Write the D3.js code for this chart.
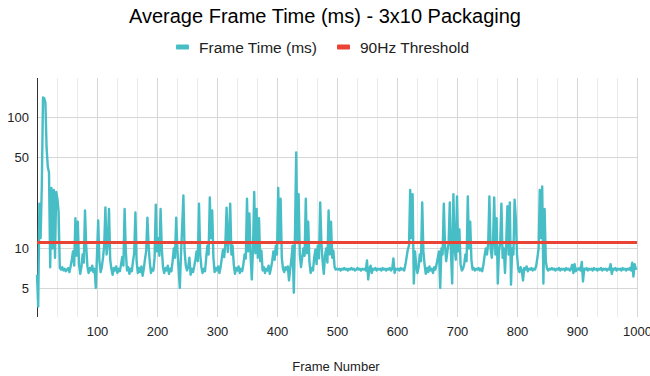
<!DOCTYPE html>
<html>
<head>
<meta charset="utf-8">
<script src="https://cdn.jsdelivr.net/npm/d3@7/dist/d3.min.js"></script>
<style>
  body { margin: 0; background: #fff; }
  text { font-family: "Liberation Sans", Arial, sans-serif; }
</style>
</head>
<body>
<figure id="chart" style="margin:0"></figure>
<script>
// frame time samples, every 2nd frame from 0 to 1000
const frameTime = [
  6.3, 3.6, 22, 12, 30, 142, 140, 130, 58, 42, 38, 7.2, 29, 10, 28, 8.5, 27, 24, 19, 7.1, 6.9, 7.2, 6.8, 7.0, 6.7,
  6.9, 7.1, 6.6, 7.3, 8.2, 9.5, 7.4, 17, 8.8, 16, 7.6, 6.4, 7.2, 9.0, 7.8, 19.5, 10.5, 7.3, 6.5, 7.1, 6.8, 7.4, 6.6, 7.0, 5.0,
  9.0, 16.4, 8.0, 6.6, 7.2, 8.5, 10.5, 20.6, 9.0, 11, 20, 8.2, 7.0, 6.3, 7.1, 6.8, 7.3, 6.5, 7.0, 6.7, 7.5, 8.6, 7.4, 20, 9.5,
  6.8, 7.2, 6.4, 7.0, 6.7, 8.0, 9.2, 18.8, 8.0, 6.5, 7.1, 6.6, 7.3, 6.2, 7.0, 8.3, 9.6, 17.2, 10.5, 7.8, 6.5, 7.0, 6.8, 8.5, 21.6,
  9.5, 12, 8.8, 20, 10, 7.2, 6.5, 7.1, 6.8, 7.4, 6.4, 7.0, 6.7, 8.0, 10, 8.5, 17.2, 9.8, 7.0, 5.0, 9.0, 15, 25.4, 9.5, 7.4,
  6.8, 7.2, 8.5, 6.3, 7.0, 6.6, 7.3, 8.2, 9.5, 8.0, 22, 9.0, 7.2, 6.5, 7.0, 6.7, 8.5, 10.5, 9.0, 24.5, 12, 19.5, 8.5, 6.6, 7.1,
  6.8, 7.3, 6.5, 7.2, 8.4, 9.8, 8.6, 11, 20.5, 9.4, 12, 22, 9.0, 10.5, 7.5, 6.4, 7.1, 6.8, 7.3, 6.5, 7.0, 6.7, 7.6, 9.0, 8.4,
  24, 9.5, 18.5, 8.8, 5.8, 10, 27, 9.2, 20, 8.5, 17, 8.0, 9.6, 6.8, 7.2, 6.5, 7.0, 6.8, 7.4, 6.4, 7.1, 8.0, 9.5, 8.2, 10.5,
  9.0, 29, 11, 24, 8.5, 7.0, 6.6, 7.2, 6.9, 7.3, 5.7, 7.0, 8.2, 10.5, 4.6, 13, 54, 11, 26, 9.0, 7.2, 8.5, 10, 8.8, 24,
  9.2, 16, 8.0, 6.5, 7.1, 6.8, 8.5, 9.8, 7.6, 10.5, 8.4, 22.5, 11, 8.0, 6.4, 8.8, 10, 7.8, 19.5, 9.0, 16, 8.5, 9.6, 7.2, 6.9,
  7.0, 6.9, 7.0, 6.8, 7.0, 6.9, 7.1, 6.9, 7.0, 6.8, 7.0, 6.9, 7.1, 6.9, 7.0, 6.8, 6.9, 7.1, 6.9, 7.0, 6.8, 7.0, 6.9, 7.0, 6.8,
  8.1, 5.8, 7.0, 7.4, 6.5, 7.0, 6.9, 7.1, 6.8, 7.0, 6.9, 7.0, 6.8, 7.1, 6.9, 7.0, 6.8, 7.0, 6.9, 7.1, 6.8, 7.0, 8.4, 6.5, 7.0,
  6.9, 7.0, 6.8, 7.1, 6.9, 7.0, 6.8, 7.5, 8.6, 9.8, 10.5, 28, 12, 26, 5.4, 9.5, 7.4, 6.5, 7.2, 9.0, 8.0, 22.5, 9.5, 7.5, 6.4,
  7.1, 6.6, 7.3, 6.8, 7.0, 6.5, 7.2, 6.9, 7.6, 8.5, 9.5, 5.0, 10, 9.0, 22, 10.5, 8.0, 9.5, 11, 22.5, 9.0, 5.4, 26, 10, 8.2,
  25, 9.5, 14, 7.5, 6.8, 7.0, 7.6, 9.0, 8.0, 25, 10, 16, 8.2, 6.9, 7.1, 6.8, 7.0, 6.9, 7.1, 6.8, 7.0, 6.7, 7.5, 8.8, 10,
  9.0, 11, 25, 10, 8.5, 11, 24.5, 9.0, 17, 5.4, 9.5, 11, 22, 8.5, 10, 6.5, 11, 21, 9.0, 22.5, 5.3, 10, 9.0, 23.6, 17,
  9.0, 7.0, 6.6, 7.2, 6.8, 5.7, 7.1, 6.9, 7.3, 6.7, 7.0, 6.9, 7.1, 6.8, 7.0, 6.9, 7.4, 8.5, 10, 28, 12, 29.7, 5.4, 20, 8.0,
  7.0, 6.8, 7.0, 6.9, 7.1, 6.9, 7.0, 6.8, 7.0, 6.9, 7.1, 6.8, 7.0, 6.9, 7.0, 6.8, 7.1, 6.9, 7.0, 6.8, 7.0, 7.5, 6.5, 7.6, 6.7,
  7.0, 6.9, 7.1, 6.8, 7.9, 5.6, 7.0, 6.9, 7.1, 6.8, 7.0, 6.9, 7.0, 6.8, 7.1, 6.9, 7.0, 6.8, 7.0, 6.9, 7.1, 6.8, 7.0, 6.9, 7.0,
  6.8, 7.0, 6.9, 7.6, 6.4, 7.0, 6.9, 7.1, 6.8, 7.0, 6.9, 7.0, 6.8, 7.1, 6.9, 7.0, 6.8, 7.0, 6.9, 7.1, 6.8, 7.8, 6.1, 7.6, 7.0,
  7.1
];
const frames = d3.range(0, 1001, 2);

// 90Hz = 11.11 ms per frame
const thresholdMs = [11.11, 11.11];
const thresholdFrames = [0, 1000];

const xTicks = [100, 200, 300, 400, 500, 600, 700, 800, 900, 1000];
const yTicks = [5, 10, 50, 100];
const legendLabels = ["Frame Time (ms)", "90Hz Threshold"];
const colors = ["#47bdc6", "#ea4335"];

const width = 650, height = 376;
const margin = { top: 78, right: 13, bottom: 59, left: 37 };
const font = "'Liberation Sans', Arial, sans-serif";

const svg = d3.select("figure#chart")
  .append("svg")
  .attr("width", width)
  .attr("height", height);

const x = d3.scaleLinear()
  .domain([0, 1000])
  .range([margin.left, width - margin.right]);

const y = d3.scaleLog()
  .domain([3, 200])
  .range([height - margin.bottom, margin.top]);

// minor vertical grid (thirds of 100)
svg.append("g")
  .selectAll("line")
  .data(d3.range(0, 1001, 100 / 3).filter(d => Math.round(d) % 100 !== 0))
  .enter()
  .append("line")
  .attr("x1", d => Math.round(x(d)) + 0.5)
  .attr("x2", d => Math.round(x(d)) + 0.5)
  .attr("y1", margin.top)
  .attr("y2", height - margin.bottom)
  .attr("stroke", "#ebebeb");

// major vertical grid
svg.append("g")
  .selectAll("line")
  .data(xTicks)
  .enter()
  .append("line")
  .attr("x1", d => Math.round(x(d)) + 0.5)
  .attr("x2", d => Math.round(x(d)) + 0.5)
  .attr("y1", margin.top)
  .attr("y2", height - margin.bottom)
  .attr("stroke", "#d6d6d6");

// horizontal grid
svg.append("g")
  .selectAll("line")
  .data(yTicks)
  .enter()
  .append("line")
  .attr("x1", margin.left)
  .attr("x2", width - margin.right)
  .attr("y1", d => Math.round(y(d)) + 0.5)
  .attr("y2", d => Math.round(y(d)) + 0.5)
  .attr("stroke", "#d6d6d6");

// x axis labels
const xAxis = svg.append("g")
  .attr("transform", "translate(0," + (height - margin.bottom) + ")")
  .call(d3.axisBottom(x).tickValues(xTicks).tickSize(0).tickPadding(10).tickFormat(d3.format("d")));
xAxis.select(".domain").remove();
xAxis.selectAll("text").attr("font-size", 13).attr("fill", "#222").attr("font-family", font);

// y axis
const yAxis = svg.append("g")
  .attr("transform", "translate(" + margin.left + ",0)")
  .call(d3.axisLeft(y).tickValues(yTicks).tickSize(0).tickPadding(8).tickFormat(d3.format("d")));
yAxis.select(".domain").remove();
yAxis.selectAll("text").attr("font-size", 13).attr("fill", "#222").attr("font-family", font);

svg.append("line")
  .attr("x1", margin.left + 0.5)
  .attr("x2", margin.left + 0.5)
  .attr("y1", margin.top)
  .attr("y2", height - margin.bottom)
  .attr("stroke", "#333");

// frame time line
const line = d3.line()
  .x((d, i) => x(frames[i]))
  .y(d => y(d));

svg.append("path")
  .datum(frameTime)
  .attr("fill", "none")
  .attr("stroke", colors[0])
  .attr("stroke-width", 2.4)
  .attr("stroke-linejoin", "round")
  .attr("d", line);

// threshold line
const thLine = d3.line()
  .x((d, i) => x(thresholdFrames[i]))
  .y(d => y(d));

svg.append("path")
  .datum(thresholdMs)
  .attr("fill", "none")
  .attr("stroke", colors[1])
  .attr("stroke-width", 3)
  .attr("d", thLine);

// title
svg.append("text")
  .attr("x", 325)
  .attr("y", 23)
  .attr("text-anchor", "middle")
  .attr("font-size", 20)
  .attr("fill", "#000")
  .text("Average Frame Time (ms) - 3x10 Packaging");

// legend
const legendX = [176, 337];
const legend = svg.append("g")
  .selectAll("g")
  .data(legendLabels)
  .enter()
  .append("g")
  .attr("transform", (d, i) => "translate(" + legendX[i] + ",47)");

legend.append("rect")
  .attr("x", 0)
  .attr("y", -2.5)
  .attr("width", 13)
  .attr("height", 5)
  .attr("rx", 1)
  .attr("fill", (d, i) => colors[i]);

legend.append("text")
  .attr("x", 23)
  .attr("y", 5.5)
  .attr("font-size", 15.5)
  .attr("fill", "#222")
  .text(d => d);

// x axis title
svg.append("text")
  .attr("x", 336)
  .attr("y", 371)
  .attr("text-anchor", "middle")
  .attr("font-size", 13)
  .attr("fill", "#222")
  .text("Frame Number");
</script>
</body>
</html>
